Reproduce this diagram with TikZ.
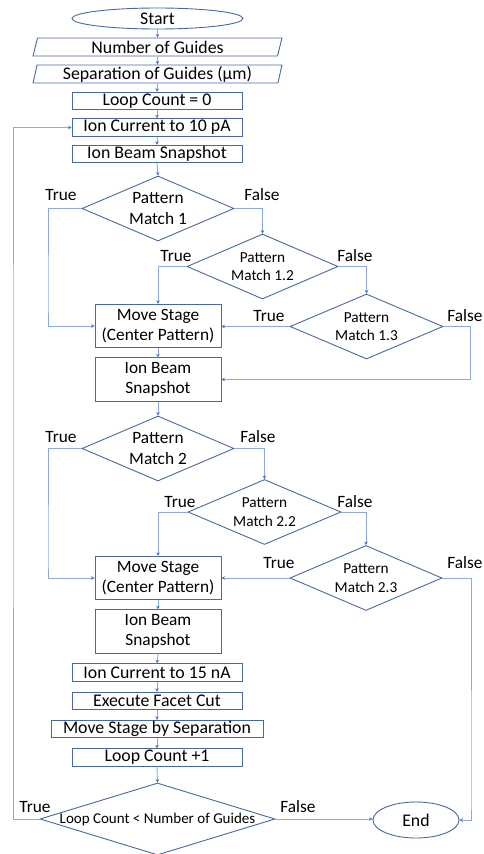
\documentclass[tikz,border=0pt]{standalone}
\usepackage{fontspec}
\setmainfont{Carlito}
\usetikzlibrary{shapes.geometric,arrows.meta}
\definecolor{boxc}{RGB}{72,104,160}
\definecolor{linec}{RGB}{140,170,222}
\definecolor{tipc}{RGB}{68,114,196}
\begin{document}
\begin{tikzpicture}[x=1pt,y=-1pt,
  base/.style={draw=boxc,line width=0.9pt,inner sep=0pt,text=black,font=\fontsize{17.8}{19.5}\selectfont},
  procbox/.style={base,rectangle,minimum width=170,minimum height=17.5},
  tallbox/.style={base,rectangle,minimum width=126,minimum height=43.5,align=center,font=\fontsize{17.3}{20.5}\selectfont},
  iobox/.style={base,trapezium,trapezium left angle=79,trapezium right angle=101,trapezium stretches=true,minimum width=249,minimum height=18},
  term/.style={base,ellipse},
  decide/.style={base,diamond,minimum width=152,minimum height=65},
  dtext/.style={align=center,inner sep=0pt,text=black},
  tf/.style={text=black,inner sep=0pt,font=\fontsize{17.3}{19}\selectfont},
  conn/.style={draw=linec,line width=0.9pt,-{Stealth[length=3.5pt,width=3.5pt,color=tipc]}}
]
\useasboundingbox (0,0) rectangle (483,854);

% nodes
\node[term,minimum width=171,minimum height=21] (start) at (157.5,18.5) {Start};
\node[iobox] (ng) at (157.5,47) {Number of Guides};
\node[iobox] (sg) at (157.5,74) {Separation of Guides (µm)};
\node[procbox] (lc0) at (157,101) {Loop Count = 0};
\node[procbox] (ic10) at (157,127.5) {Ion Current to 10 pA};
\node[procbox] (snap1) at (157,154) {Ion Beam Snapshot};

\node[decide,label={[dtext,font=\fontsize{17.3}{21}\selectfont]center:Pattern\\Match 1}] (pm1) at (158,208.5) {};
\node[decide,minimum width=151,label={[dtext,font=\fontsize{15.3}{18.5}\selectfont]center:Pattern\\Match 1.2}] (pm12) at (262.5,266.5) {};
\node[decide,minimum width=153,label={[dtext,font=\fontsize{15.3}{18.5}\selectfont]center:Pattern\\Match 1.3}] (pm13) at (366.5,326.5) {};
\node[tallbox] (ms1) at (158,326) {Move Stage\\(Center Pattern)};
\node[tallbox] (snap2) at (158,379.5) {Ion Beam\\Snapshot};

\node[decide,label={[dtext,font=\fontsize{17.3}{21}\selectfont]center:Pattern\\Match 2}] (pm2) at (158,448.5) {};
\node[decide,minimum width=153,label={[dtext,font=\fontsize{15.3}{18.5}\selectfont]center:Pattern\\Match 2.2}] (pm22) at (264.5,512) {};
\node[decide,label={[dtext,font=\fontsize{15.3}{18.5}\selectfont]center:Pattern\\Match 2.3}] (pm23) at (366,578) {};
\node[tallbox] (ms2) at (158,578) {Move Stage\\(Center Pattern)};
\node[tallbox] (snap3) at (158,631.5) {Ion Beam\\Snapshot};

\node[procbox] (ic15) at (157,672.5) {Ion Current to 15 nA};
\node[procbox] (cut) at (157,701) {Execute Facet Cut};
\node[procbox,minimum width=212] (msep) at (157,729) {Move Stage by Separation};
\node[procbox] (lc1) at (157,757.5) {Loop Count +1};
\node[decide,minimum width=235,minimum height=72,label={[dtext,font=\fontsize{15}{18}\selectfont]center:Loop Count < Number of Guides}] (loop) at (157.5,819) {};
\node[term,minimum width=86,minimum height=36] (end) at (416,820) {End};

% labels
\node[tf] (t1) at (61,195) {True};
\node[tf] (f1) at (262,195) {False};
\node[tf] (t12) at (176,256) {True};
\node[tf] (f12) at (355,256) {False};
\node[tf] (t13) at (269,316) {True};
\node[tf] (f13) at (465,316) {False};
\node[tf] (t2) at (61,437) {True};
\node[tf] (f2) at (258,437) {False};
\node[tf] (t22) at (180,502) {True};
\node[tf] (f22) at (355,502) {False};
\node[tf] (t23) at (279,563) {True};
\node[tf] (f23) at (465,563) {False};
\node[tf] (tl) at (35,807) {True};
\node[tf] (fl) at (298,807) {False};

% connectors
\draw[conn] (start.south) -- (ng.north);
\draw[conn] (ng.south) -- (sg.north);
\draw[conn] (sg.south) -- (lc0.north);
\draw[conn] (lc0.south) -- (ic10.north);
\draw[conn] (ic10.south) -- (snap1.north);
\draw[conn] (snap1.south) -- (pm1.north);

\draw[conn] (pm1.west) -| (48,300) |- (ms1.west);
\draw[conn] (pm1.east) -| (pm12.north);
\draw[conn] (pm12.west) -| (ms1.north);
\draw[conn] (pm12.east) -| (pm13.north);
\draw[conn] (pm13.west) -- (ms1.east |- pm13.west);
\draw[conn] (pm13.east) -| (470,379.5) -- (snap2.east);
\draw[conn] (ms1.south) -- (snap2.north);
\draw[conn] (snap2.south) -- (pm2.north);

\draw[conn] (pm2.west) -| (48,560) |- (ms2.west);
\draw[conn] (pm2.east) -| (pm22.north);
\draw[conn] (pm22.west) -| (ms2.north);
\draw[conn] (pm22.east) -| (pm23.north);
\draw[conn] (pm23.west) -- (ms2.east);
\draw[conn] (pm23.east) -| (471,800) |- (end.east);
\draw[conn] (ms2.south) -- (snap3.north);
\draw[conn] (snap3.south) -- (ic15.north);
\draw[conn] (ic15.south) -- (cut.north);
\draw[conn] (cut.south) -- (msep.north);
\draw[conn] (msep.south) -- (lc1.north);
\draw[conn] (lc1.south) -- (loop.north);
\draw[conn] (loop.west) -| (13,400) |- (ic10.west);
\draw[conn] (loop.east) -- (end.west |- loop.east);
\end{tikzpicture}
\end{document}
